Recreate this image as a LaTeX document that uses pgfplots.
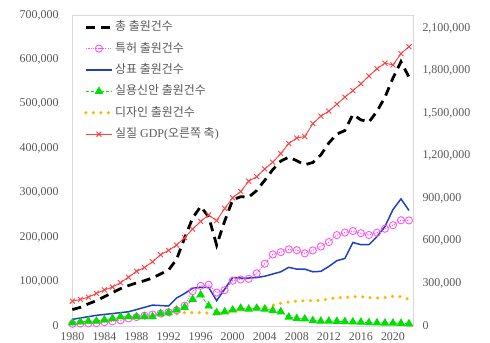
\documentclass[border=0pt]{standalone}
\usepackage{pgfplots}
\pgfplotsset{compat=1.18}
\usepackage{pgfplotstable}
\usepackage{fontspec}
\setmainfont{Liberation Serif}
\newfontfamily\kr{Noto Sans CJK KR}
\definecolor{tickgray}{HTML}{595959}
\definecolor{frame}{HTML}{D9D9D9}
\definecolor{cTotal}{HTML}{000000}
\definecolor{cPat}{HTML}{FF55EE}
\definecolor{cTm}{HTML}{1F3FBF}
\definecolor{cUm}{HTML}{00E000}
\definecolor{cDes}{HTML}{FFB800}
\definecolor{cGdp}{HTML}{FF4040}

\pgfplotstableread{
year total patent trademark utility design gdp
1980 37000 5070 15000 7000 6000 174600
1981 42000 5303 18000 9000 7000 187200
1982 50000 5924 21000 11000 8000 202700
1983 57000 6734 24000 11000 9000 229900
1984 66000 8499 26000 14000 11000 254200
1985 75000 10587 28000 17000 13000 274100
1986 84000 12759 30000 21000 15000 305000
1987 91000 17062 32000 21000 17000 343800
1988 97000 20051 37000 21000 18000 385000
1989 102000 23315 42000 21000 19000 412300
1990 108000 25820 47000 21000 20000 453100
1991 117000 28132 46000 28000 22000 502100
1992 126000 31073 45000 30000 24000 533200
1993 150000 35200 63000 36000 27000 570000
1994 198000 45712 73000 42000 30000 623000
1995 243000 78499 85000 60000 30000 682800
1996 269000 90326 87000 70000 30000 736800
1997 246000 92734 87000 45000 29000 782500
1998 182000 75188 57000 30000 26000 742600
1999 236000 80642 83000 32000 29000 828000
2000 284000 102010 109000 36000 33000 903300
2001 291000 104612 108000 40000 36000 947500
2002 290000 106136 108000 38000 37000 1020500
2003 305000 118652 109000 40000 40000 1052100
2004 328000 140115 112000 38000 42000 1106800
2005 352000 160921 117000 35000 47000 1154400
2006 371000 166189 122000 32000 51000 1215600
2007 380000 172469 132000 20000 54000 1286100
2008 372000 170632 128000 17000 56000 1324700
2009 363000 163523 128000 16000 57000 1335300
2010 368000 170101 122000 12000 57000 1426100
2011 385000 178924 123000 11000 58000 1478900
2012 412000 188915 134000 11000 61000 1514400
2013 432000 204589 147000 10500 64000 1562800
2014 440000 210292 152000 10000 64000 1612800
2015 476000 213694 188000 9000 66000 1658000
2016 464000 208830 183000 8500 66000 1706900
2017 459000 204775 183000 7500 64000 1761500
2018 483000 209992 201000 7000 63000 1812600
2019 515000 218975 224000 6500 64000 1852500
2020 558000 226759 262000 6500 67000 1839500
2021 595000 237998 286000 6000 66000 1918600
2022 560000 237633 260000 5000 60000 1968500
}\datatable

\pgfplotsset{
  totalS/.style={cTotal, line width=2.8bp, dash pattern=on 9bp off 6bp, no markers},
  patS/.style={cPat, line width=0.9bp, dash pattern=on 1.2bp off 1.2bp, mark=o, mark size=3.6bp, mark options={solid, line width=0.9bp}},
  tmS/.style={cTm, line width=1.5bp, no markers},
  umS/.style={cUm, line width=0.8bp, dash pattern=on 3bp off 2bp, mark=triangle*, mark size=4.2bp, mark options={solid}},
  desS/.style={cDes, line width=3.5bp, line cap=round, dash pattern=on 0bp off 7.5bp, no markers},
  gdpS/.style={cGdp, line width=0.9bp, mark=x, mark size=3.5bp, mark options={solid}},
  common/.style={
    scale only axis, width=341bp, height=311bp,
    xmin=1979.95, xmax=2022.5,
    major tick length=0pt,
    scaled y ticks=false,
    tick label style={font=\fontsize{12}{13}\selectfont, text=tickgray},
    /pgf/number format/assume math mode=true,
    xticklabel style={/pgf/number format/1000 sep={}},
  },
}

\begin{document}
\begin{tikzpicture}
\begin{axis}[common, name=main,
  ymin=0, ymax=700000,
  xtick={1980,1984,...,2020},
  ytick={0,100000,200000,300000,400000,500000,600000,700000},
  yticklabel style={/pgf/number format/fixed, /pgf/number format/1000 sep={,}, xshift=-10bp},
  xticklabel style={yshift=-3bp},
  axis line style={draw=frame, line width=0.8bp},
]
\addplot[totalS] table[x=year, y=total] {\datatable};
\addplot[patS] table[x=year, y=patent] {\datatable};
\addplot[tmS] table[x=year, y=trademark] {\datatable};
\addplot[umS] table[x=year, y=utility] {\datatable};
\addplot[desS] table[x=year, y=design] {\datatable};
\end{axis}
\begin{axis}[common,
  ymin=0, ymax=2191600,
  axis y line*=right, axis x line=none,
  y axis line style={draw=none},
  ytick={0,300000,600000,900000,1200000,1500000,1800000,2100000},
  yticklabel style={/pgf/number format/fixed, /pgf/number format/1000 sep={,}, xshift=6bp},
  legend image code/.code={\draw[mark repeat=2,mark phase=2,#1] plot coordinates {(0bp,0bp) (13bp,0bp) (26bp,0bp)};},
  legend style={at={(rel axis cs:0,1)}, anchor=north west, xshift=12bp, yshift=-5bp,
    draw=none, fill=none, inner sep=0pt, row sep=7.4bp,
    font=\fontsize{12}{13}\selectfont, text=tickgray,
    nodes={inner sep=1.5bp, text height=9bp, text depth=2bp}},
  legend cell align=left,
]
\addlegendimage{totalS}\addlegendentry{\kr 총 출원건수}
\addlegendimage{patS}\addlegendentry{\kr 특허 출원건수}
\addlegendimage{tmS}\addlegendentry{\kr 상표 출원건수}
\addlegendimage{umS}\addlegendentry{\kr 실용신안 출원건수}
\addlegendimage{desS}\addlegendentry{\kr 디자인 출원건수}
\addplot[gdpS] table[x=year, y=gdp] {\datatable};
\addlegendentry{{\kr 실질} GDP({\kr 오른쪽 축})}
\end{axis}
\pgfresetboundingbox
\path[use as bounding box] ([xshift=-72bp,yshift=-17bp]main.south west) rectangle ([xshift=77bp,yshift=15bp]main.north east);
\end{tikzpicture}
\end{document}
